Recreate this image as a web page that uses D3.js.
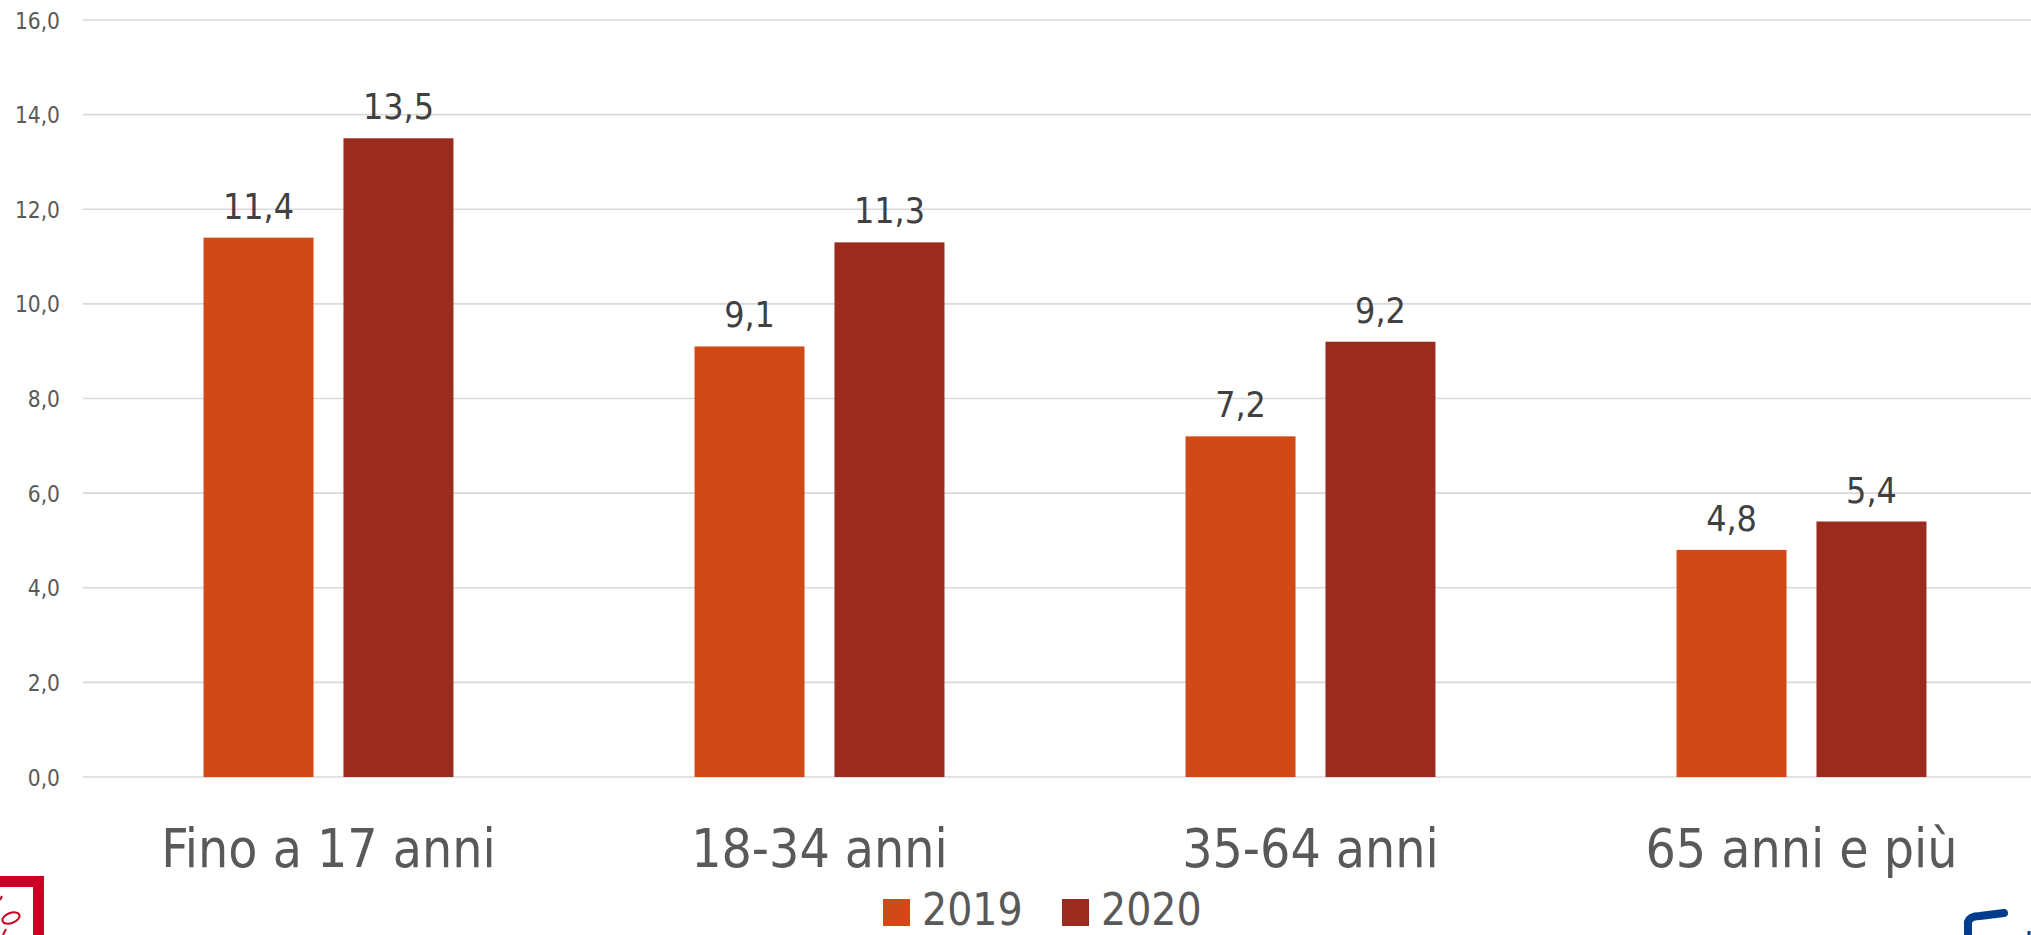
<!DOCTYPE html>
<html>
<head>
<meta charset="utf-8">
<script src="https://cdn.jsdelivr.net/npm/d3@7/dist/d3.min.js"></script>
<style>
  html, body { margin: 0; padding: 0; background: #ffffff; }
  svg { display: block; }
  text { font-family: "DejaVu Sans Condensed", "DejaVu Sans", sans-serif; font-stretch: condensed; }
</style>
</head>
<body>
<script>
const categories = ["Fino a 17 anni", "18-34 anni", "35-64 anni", "65 anni e più"];
const seriesNames = ["2019", "2020"];
const values2019 = [11.4, 9.1, 7.2, 4.8];
const values2020 = [13.5, 11.3, 9.2, 5.4];
const yTicks = [0, 2, 4, 6, 8, 10, 12, 14, 16];
const colors = ["#D14916", "#9A2B1E"];

const W = 2031, H = 935;
const svg = d3.select("body").append("svg").attr("width", W).attr("height", H);

const y = d3.scaleLinear().domain([0, 16]).range([777, 20]);
const x0 = d3.scaleBand().domain(categories).range([83, 2047]).paddingInner(0.491).paddingOuter(0.2455);
const x1 = d3.scaleBand().domain(seriesNames).range([0, x0.bandwidth()]).paddingInner(0.214).paddingOuter(0);
const color = d3.scaleOrdinal().domain(seriesNames).range(colors);
const fmt = v => d3.format(".1f")(v).replace(".", ",");

// gridlines
svg.append("g").selectAll("line").data(yTicks).join("line")
  .attr("x1", 83).attr("x2", W)
  .attr("y1", d => y(d)).attr("y2", d => y(d))
  .attr("stroke", "#d9d9d9").attr("stroke-width", 1.6);

// y axis labels
const yAxis = d3.axisLeft(y).tickValues(yTicks).tickFormat(fmt).tickSize(0).tickPadding(0);
const ga = svg.append("g").attr("transform", "translate(60,0)").call(yAxis);
ga.select(".domain").remove();
ga.selectAll("text").attr("font-size", 22.5).attr("fill", "#595959")
  .style("font-family", "'DejaVu Sans Condensed', 'DejaVu Sans', sans-serif").attr("dy", "0.36em");

// bars
const data = categories.map((c, i) => ({ cat: c, vals: [
  { s: "2019", v: values2019[i] }, { s: "2020", v: values2020[i] } ] }));

const groups = svg.append("g").selectAll("g").data(data).join("g")
  .attr("transform", d => `translate(${x0(d.cat)},0)`);

groups.selectAll("rect").data(d => d.vals).join("rect")
  .attr("x", d => x1(d.s)).attr("width", x1.bandwidth())
  .attr("y", d => y(d.v)).attr("height", d => y(0) - y(d.v))
  .attr("fill", d => color(d.s));

groups.selectAll("text.val").data(d => d.vals).join("text").attr("class", "val")
  .attr("x", d => x1(d.s) + x1.bandwidth() / 2)
  .attr("y", d => y(d.v) - 19)
  .attr("text-anchor", "middle").attr("font-size", 35.5).attr("fill", "#404040")
  .text(d => fmt(d.v));

// x axis labels
const xAxis = d3.axisBottom(x0).tickSize(0).tickPadding(0);
const gx = svg.append("g").attr("transform", "translate(0,0)").call(xAxis);
gx.select(".domain").remove();
gx.selectAll("text").attr("font-size", 53).attr("fill", "#595959")
  .style("font-family", "'DejaVu Sans Condensed', 'DejaVu Sans', sans-serif")
  .attr("y", 867).attr("dy", 0);

// legend
const legX = [883, 1062];
const leg = svg.append("g").selectAll("g").data(seriesNames).join("g")
  .attr("transform", (d, i) => `translate(${legX[i]},0)`);
leg.append("rect").attr("x", 0).attr("y", 899).attr("width", 27).attr("height", 27)
  .attr("fill", d => color(d));
leg.append("text").attr("x", 39).attr("y", 925).attr("font-size", 44).attr("fill", "#595959")
  .text(d => d);

// decorative corner logos
const deco = svg.append("g");
deco.append("path").attr("d", "M-10,881.5 H38.5 V945").attr("fill", "none")
  .attr("stroke", "#CC0022").attr("stroke-width", 11);
deco.append("ellipse").attr("cx", 11).attr("cy", 918).attr("rx", 9).attr("ry", 5)
  .attr("transform", "rotate(-20,11,918)").attr("fill", "none").attr("stroke", "#CC0022").attr("stroke-width", 2);
deco.append("path").attr("d", "M3,935 L6,929").attr("stroke", "#CC0022").attr("stroke-width", 2);
deco.append("path").attr("d", "M0,900 L2,896").attr("stroke", "#CC0022").attr("stroke-width", 2);
deco.append("path").attr("d", "M1968,945 L1968,922 Q1970,916 1980,916 L2004,913")
  .attr("fill", "none").attr("stroke", "#003D8F").attr("stroke-width", 8).attr("stroke-linecap", "round");
deco.append("path").attr("d", "M2029,931 L2029,945").attr("stroke", "#003D8F").attr("stroke-width", 3);
</script>
</body>
</html>
